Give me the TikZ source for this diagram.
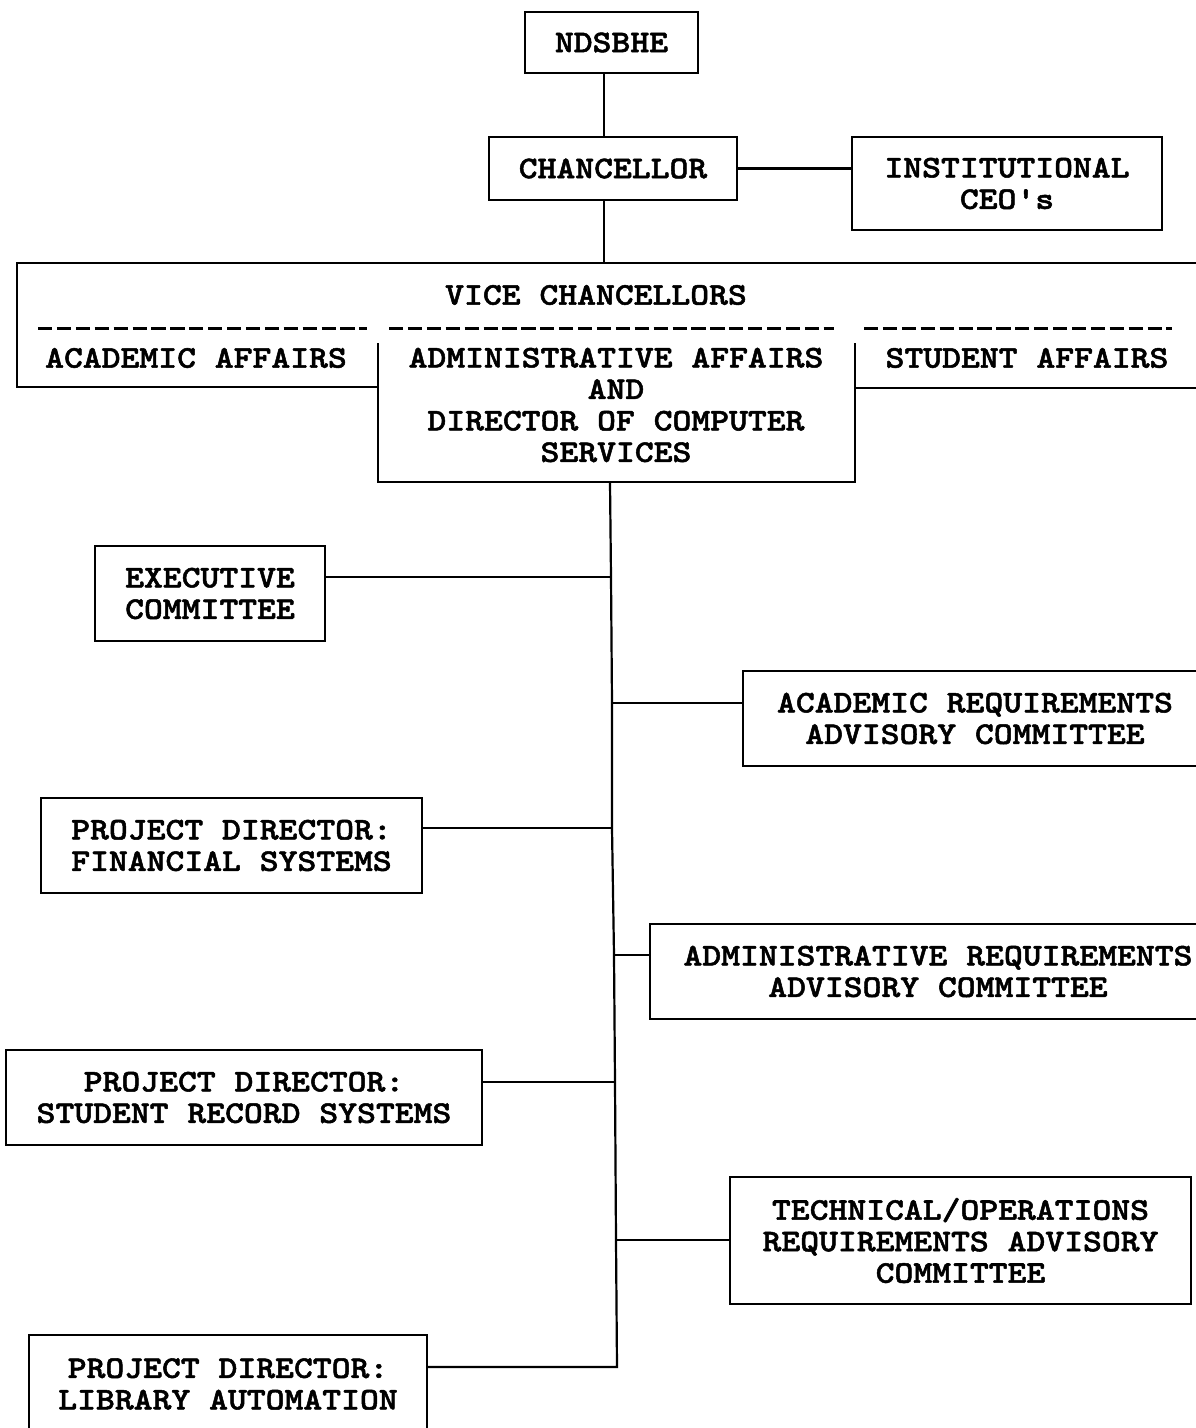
\documentclass[tikz,border=0pt]{standalone}
\usepackage{fontspec}
\newfontfamily\typew{lmmonolt10-bold}[Extension=.otf, FakeStretch=1.14, FakeBold=1.6]
\begin{document}
\begin{tikzpicture}[x=1pt,y=-1pt,
  every node/.style={font=\typew\fontsize{31.5pt}{31.5pt}\selectfont, align=center, inner sep=0pt},
  box/.style={draw, line width=2.4pt},
  link/.style={line width=2.2pt},
  typedash/.style={line width=3pt, dash pattern=on 14.2pt off 4.7pt},
]
\useasboundingbox (0,0) rectangle (1196,1428);
\clip (0,0) rectangle (1196,1428);
\fill[white] (0,0) rectangle (1196,1428);

% top boxes
\node[box, minimum width=173pt, minimum height=61pt] (ndsbhe) at (611.5,42.5) {NDSBHE};
\node[box, minimum width=248pt, minimum height=63pt] (chanc) at (613,168.5) {CHANCELLOR};
\node[box, minimum width=310pt, minimum height=93pt] (inst) at (1007,183.5) {INSTITUTIONAL\\CEO's};

\coordinate (topspine) at (604,0);
\draw[link] (ndsbhe.south -| topspine) -- (chanc.north -| topspine);
\draw[link] (chanc.east) -- (inst.west |- chanc.east);

% vice chancellors composite box
\coordinate (vctop) at (604,263);
\draw[box, line join=miter] (1215,263) -- (17,263) -- (17,387) -- (378,387);
\draw[box] (378,343) -- (378,482) -- (855,482) -- (855,343);
\draw[box] (855,388) -- (1215,388);
\node (vctitle) at (596,295) {VICE CHANCELLORS};
\draw[typedash] (38,328) -- (367,328);
\draw[typedash] (389,328) -- (834,328);
\draw[typedash] (864,328) -- (1172,328);
\node (acad) at (196,358) {ACADEMIC AFFAIRS};
\node (admin) at (616,405) {ADMINISTRATIVE AFFAIRS\\AND\\DIRECTOR OF COMPUTER\\SERVICES};
\node (student) at (1027,358) {STUDENT AFFAIRS};
\draw[link] (chanc.south -| topspine) -- (vctop);

% lower boxes
\node[box, minimum width=230pt, minimum height=95pt] (exec) at (210,593.5) {EXECUTIVE\\COMMITTEE};
\node[box, minimum width=464pt, minimum height=95pt] (acreq) at (975,718.5) {ACADEMIC REQUIREMENTS\\ADVISORY COMMITTEE};
\node[box, minimum width=381pt, minimum height=95pt] (pdfin) at (231.5,845.5) {PROJECT DIRECTOR:\\FINANCIAL SYSTEMS};
\node[box, minimum width=576pt, minimum height=95pt] (adreq) at (938,971.5) {ADMINISTRATIVE REQUIREMENTS\\ADVISORY COMMITTEE};
\node[box, minimum width=476pt, minimum height=95pt] (pdstu) at (244,1097.5) {PROJECT DIRECTOR:\\STUDENT RECORD SYSTEMS};
\node[box, minimum width=461pt, minimum height=127pt] (tech) at (960.5,1240.5) {TECHNICAL/OPERATIONS\\REQUIREMENTS ADVISORY\\COMMITTEE};
\node[box, minimum width=398pt, minimum height=98pt] (pdlib) at (228,1384) {PROJECT DIRECTOR:\\LIBRARY AUTOMATION};

% spine junctions
\coordinate (s0) at (610,482);
\coordinate (j1) at (611,577);
\coordinate (j2) at (612,703);
\coordinate (j3) at (612,828);
\coordinate (j4) at (614,955);
\coordinate (j5) at (615,1082);
\coordinate (j6) at (616,1240);
\coordinate (j7) at (617,1367);
\draw[link, line join=miter] (s0) -- (j1) -- (j2) -- (j3) -- (j4) -- (j5) -- (j6) -- (j7) -- (pdlib.east |- j7);
\draw[link] (exec.east |- j1) -- (j1);
\draw[link] (j2) -- (acreq.west |- j2);
\draw[link] (pdfin.east |- j3) -- (j3);
\draw[link] (j4) -- (adreq.west |- j4);
\draw[link] (pdstu.east |- j5) -- (j5);
\draw[link] (j6) -- (tech.west |- j6);
\end{tikzpicture}
\end{document}
